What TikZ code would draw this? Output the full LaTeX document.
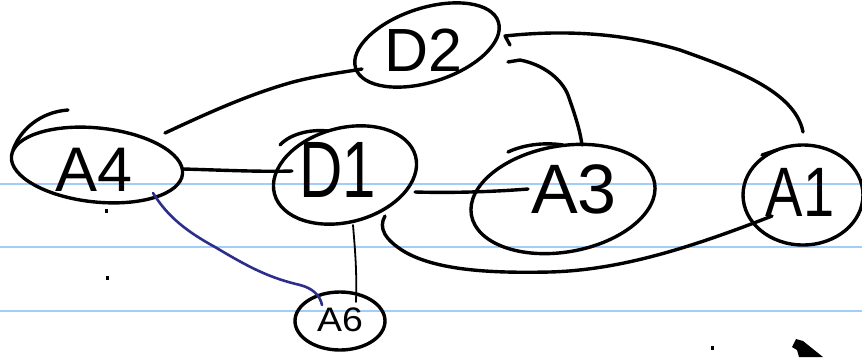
\documentclass[tikz,border=0pt]{standalone}
\usepackage{fontspec}
\setmainfont{Liberation Sans}
\usetikzlibrary{shapes.geometric,calc}
\definecolor{ruleblue}{RGB}{160,206,248}
\definecolor{penblue}{RGB}{45,46,140}
\begin{document}
\begin{tikzpicture}[x=1pt,y=-1pt,
  bubble/.style={ellipse, draw, line width=3.4pt, inner sep=0pt, outer sep=0pt},
  lbl/.style={inner sep=0pt, outer sep=0pt},
  ink/.style={line width=3.4pt, line cap=round, line join=round},
  thinink/.style={line width=1.8pt, line cap=round},
  blueink/.style={line width=2.6pt, line cap=round, line join=round, penblue},
  rule/.style={line width=2pt, ruleblue}]
\fill[white] (0,0) rectangle (862,357);
\useasboundingbox (0,0) rectangle (862,357);

% ruled paper
\foreach \yy in {184,247,311} \draw[rule] (0,\yy) -- (862,\yy);

% bubbles
\node[bubble, minimum width=150pt, minimum height=74pt, rotate=18] (d2) at (427,45) {};
\node[bubble, minimum width=172pt, minimum height=74pt, rotate=-6] (a4) at (97,165) {};
\node[bubble, minimum width=146pt, minimum height=94pt, rotate=15] (d1) at (345,175) {};
\node[bubble, minimum width=186pt, minimum height=106pt, rotate=10] (a3) at (563,199) {};
\node[bubble, minimum width=120pt, minimum height=100pt] (a1) at (803,195) {};
\node[bubble, minimum width=90pt, minimum height=58pt] (a6) at (340,321) {};

% labels
\node[lbl, font=\fontsize{61}{61}\selectfont] (ld2) at (423,50) {D2};
\node[lbl, font=\fontsize{63}{63}\selectfont] (la4) at (94,170) {A4};
\node[lbl, font=\fontsize{80}{80}\selectfont] (ld1) at (338,170) {\scalebox{0.75}[1]{D1}};
\node[lbl, font=\fontsize{70}{70}\selectfont] (la3) at (574,189) {A3};
\node[lbl, font=\fontsize{70}{70}\selectfont] (la1) at (800,192) {\scalebox{0.8}[1]{A1}};
\node[lbl, font=\fontsize{34}{34}\selectfont] (la6) at (340,320) {\scalebox{1.1}[1]{A6}};

% pen overlaps where the bubbles were started
\draw[ink] ($(a4)+(-29,-55)$) .. controls ($(a4)+(-57,-53)$) and ($(a4)+(-77,-35)$) .. ($(a4)+(-84,-15)$);
\draw[ink] ($(d1)+(-17,-44)$) .. controls ($(d1)+(-35,-46)$) and ($(d1)+(-55,-41)$) .. ($(d1)+(-65,-30)$);
\draw[ink] ($(a3)+(0,-54)$) .. controls ($(a3)+(-20,-57)$) and ($(a3)+(-40,-54)$) .. ($(a3)+(-55,-47)$);
\draw[ink] ($(a1)+(-41,-40)$) -- ($(a1)+(-26,-45)$);

% connectors
\draw[ink] ($(a4)+(68,-32)$) .. controls (210,112) and (250,94) .. (293,82)
  .. controls (320,75) and (345,72) .. ($(d2)+(-65,24)$);
\draw[ink] ($(a4)+(86,4)$) .. controls (220,170) and (260,172) .. ($(d1)+(-53,-4)$);
\draw[ink] ($(d1)+(70,17)$) .. controls (450,193) and (490,192) .. ($(a3)+(-35,-10)$);
\draw[ink] ($(d2)+(83,0)$) -- ($(d2)+(78,-9)$) .. controls (560,30) and (620,32) .. (680,50)
  .. controls (730,68) and (795,90) .. ($(a1)+(0,-63)$);
\draw[ink] ($(d2)+(81,17)$) -- ($(d2)+(93,15)$) .. controls (545,65) and (562,80) .. (568,95)
  .. controls (575,115) and (580,130) .. ($(a3)+(19,-54)$);
\draw[ink] ($(d1)+(40,41)$) .. controls (378,228) and (385,240) .. (405,252)
  .. controls (440,272) and (500,273) .. (550,272)
  .. controls (620,270) and (690,248) .. ($(a1)+(-31,21)$);
\draw[thinink] ($(d1)+(8,50)$) .. controls (355,250) and (357,270) .. ($(a6)+(16,-19)$);
\draw[blueink] ($(a4)+(56,28)$) .. controls (165,212) and (180,228) .. (215,247)
  .. controls (250,268) and (270,278) .. (300,285)
  .. controls (312,288) and (320,295) .. ($(a6)+(-18,-16)$);

% stray pen marks
\fill (105,209) rectangle (107.5,213);
\fill (106,276) rectangle (108.5,280);
\fill (711,346) rectangle (713.5,350);
\fill (792,347) -- (796,339) -- (803,341) -- (823,357) -- (799,357) -- (797,350) -- cycle;
\end{tikzpicture}
\end{document}
